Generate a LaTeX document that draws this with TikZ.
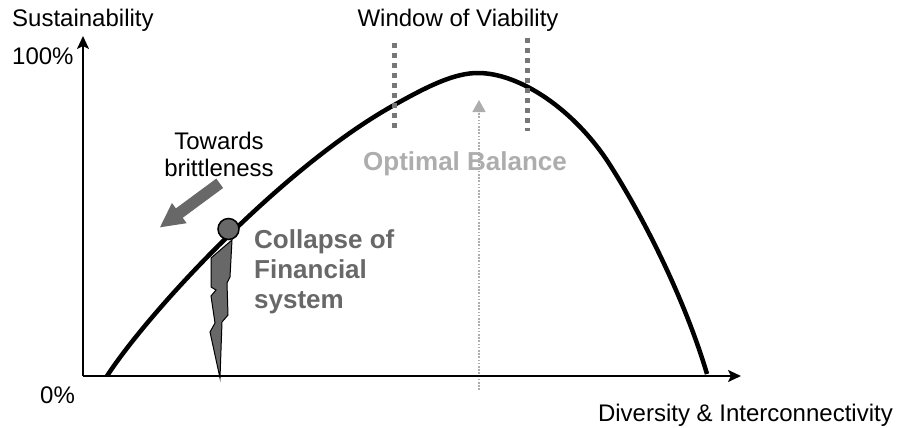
\documentclass[tikz,border=0pt]{standalone}
\usepackage{fontspec}
\setmainfont{Liberation Sans}
\usetikzlibrary{arrows.meta}
\definecolor{boltgrey}{HTML}{686868}
\definecolor{wingrey}{HTML}{777777}
\definecolor{optgrey}{HTML}{ADADAD}
\begin{document}
\begin{tikzpicture}[x=1pt,y=-1pt,
  lbl/.style={font=\fontsize{24}{26.7}\selectfont, inner sep=0pt},
  boldlbl/.style={font=\fontsize{26}{30}\selectfont\bfseries, inner sep=0pt},
  axisline/.style={line width=2pt, -{Stealth[length=13pt,width=12pt,inset=3pt]}},
  curveline/.style={line width=4.5pt, line join=round},
  winline/.style={wingrey, line width=5pt, dash pattern=on 5pt off 5pt},
  optline/.style={optgrey, line width=1.6pt, dash pattern=on 1.6pt off 1.6pt, -{Triangle[length=12pt,width=13pt]}},
  boltshape/.style={fill=boltgrey, draw=black, line width=1pt, line join=miter}]
\useasboundingbox (0,0) rectangle (897,428);

% coordinates
\coordinate (origin) at (83,376);
\coordinate (ytip) at (83,36);
\coordinate (xtip) at (741,376);
\coordinate (optbot) at (479,390);
\coordinate (opttop) at (479,100);
\coordinate (winLa) at (394,43);
\coordinate (winLb) at (394,128);
\coordinate (winRa) at (527,38);
\coordinate (winRb) at (527,131);

% optimal balance dotted arrow
\draw[optline] (optbot) -- (opttop);

% lightning bolt
\draw[boltshape] (211,258) -- (232,240) -- (230,277) -- (227,283) -- (228,315) -- (222,322) -- (220,378) -- (210,332) -- (215,323) -- (211,296) -- (216,290) -- (211,287) -- cycle;

% axes
\draw[axisline] (origin) -- (ytip);
\draw[axisline] (origin) -- (xtip);

% curve
\draw[curveline] (107,376) .. controls (150,310) and (285,165) .. (396,104)
  .. controls (430,85) and (455,73) .. (478,73)
  .. controls (520,73) and (575,110) .. (610,165)
  .. controls (645,220) and (685,300) .. (707,374);

% window of viability lines
\draw[winline] (winLa) -- (winLb);
\draw[winline] (winRa) -- (winRb);

% towards brittleness arrow
\fill[boltgrey] (223.1,188.0) -- (182.7,217.8) -- (186.7,223.2) -- (160,227.3) -- (171.9,203.0) -- (175.9,208.4) -- (216.3,178.6) -- cycle;

% collapse point
\node[circle, fill=boltgrey, draw=black, line width=1.5pt, minimum size=21pt, inner sep=0pt] (pt) at (228.5,229) {};

% labels
\node[lbl, anchor=base west] (ylabel) at (12,27) {Sustainability};
\node[lbl, anchor=base] (window) at (458,27) {Window of Viability};
\node[lbl, anchor=base west] (hundred) at (12,64) {100\%};
\node[lbl, anchor=base west] (zero) at (40,403) {0\%};
\node[lbl, anchor=base east] (xlabel) at (893,421) {Diversity \& Interconnectivity};
\node[lbl, align=center, anchor=base] (towards) at (219,176) {Towards\\brittleness};
\node[boldlbl, text=boltgrey, align=left, anchor=base west] (collapse) at (254,308) {Collapse of\\Financial\\system};
\node[boldlbl, text=optgrey, anchor=base] (optimal) at (465,170) {Optimal Balance};
\end{tikzpicture}
\end{document}
